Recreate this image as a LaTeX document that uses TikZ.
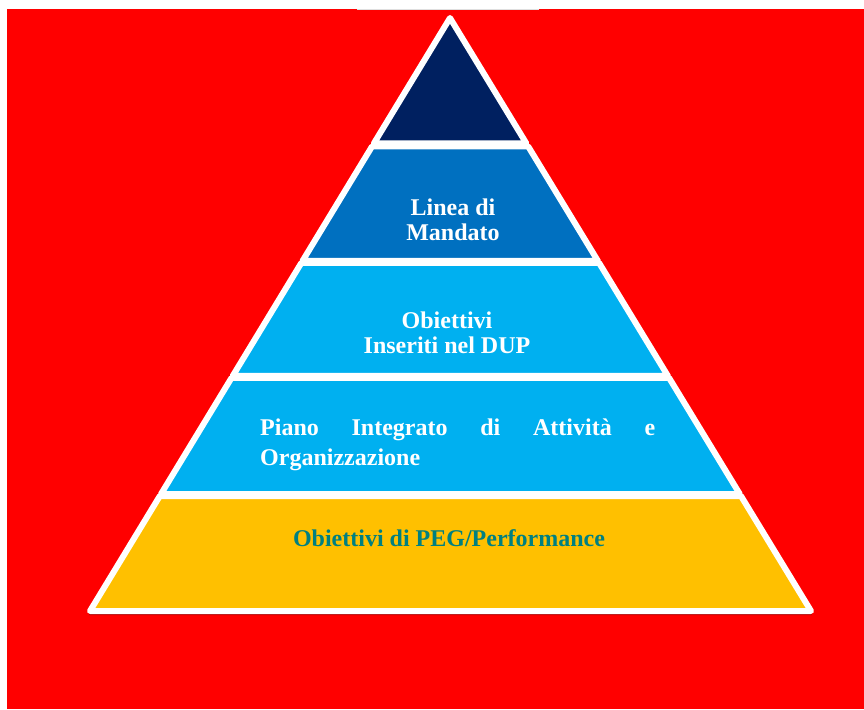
\documentclass[tikz,border=0pt]{standalone}
\usepackage{fontspec}
\setmainfont{Liberation Serif}
\usetikzlibrary{calc}
\definecolor{rosso}{RGB}{255,0,0}
\definecolor{blunotte}{RGB}{0,32,96}
\definecolor{blu}{RGB}{0,112,192}
\definecolor{azzurro}{RGB}{0,176,240}
\definecolor{giallo}{RGB}{255,192,0}
\definecolor{verdeacqua}{RGB}{0,128,128}
\begin{document}
\begin{tikzpicture}[x=1pt,y=-1pt,
  fascia/.style={draw=white,line width=6pt,line join=round},
  testo/.style={font=\fontsize{24}{25}\selectfont\bfseries,text=white,inner sep=0pt,align=center,anchor=base}]
\useasboundingbox (0,0) rectangle (864,709);
\fill[white] (0,0) rectangle (864,709);
\fill[rosso] (7,9) rectangle (864,709);
\draw[gray!25,line width=1pt] (357,9.5) -- (539,9.5);
\coordinate (A) at (450,18);
\coordinate (L) at (90,611);
\coordinate (R) at (811,611);
% ombra sotto la base
\fill[black,opacity=0.3] ($(A)!{478/593}!(L)+(-1,4)$) -- ($(L)+(-1,4)$) -- ($(R)+(1,4)$) -- ($(A)!{478/593}!(R)+(1,4)$) -- cycle;
% vertice
\filldraw[fascia,fill=blunotte] (A) -- ($(A)!{125.5/593}!(L)$) -- ($(A)!{125.5/593}!(R)$) -- cycle;
% fasce
\foreach \su/\giu/\col in {146.5/261/blu,263/376/azzurro,378/494/azzurro,496/611/giallo}
  \filldraw[fascia,fill=\col] ($(A)!{(\su-18)/593}!(L)$) -- ($(A)!{(\giu-18)/593}!(L)$) -- ($(A)!{(\giu-18)/593}!(R)$) -- ($(A)!{(\su-18)/593}!(R)$) -- cycle;
% testi (base = riga in basso)
\node[testo] (linea) at (453,240) {Linea di\\Mandato};
\node[testo] (obiettivi) at (447,353) {Obiettivi\\Inseriti nel DUP};
\node[testo,align=left,anchor=base west,font=\fontsize{24}{30}\selectfont\bfseries] (piano) at (260,465) {\makebox[395pt][s]{Piano Integrato di Attività e}\\Organizzazione};
\node[testo,text=verdeacqua] (peg) at (449,546) {Obiettivi di PEG/Performance};
\end{tikzpicture}
\end{document}
